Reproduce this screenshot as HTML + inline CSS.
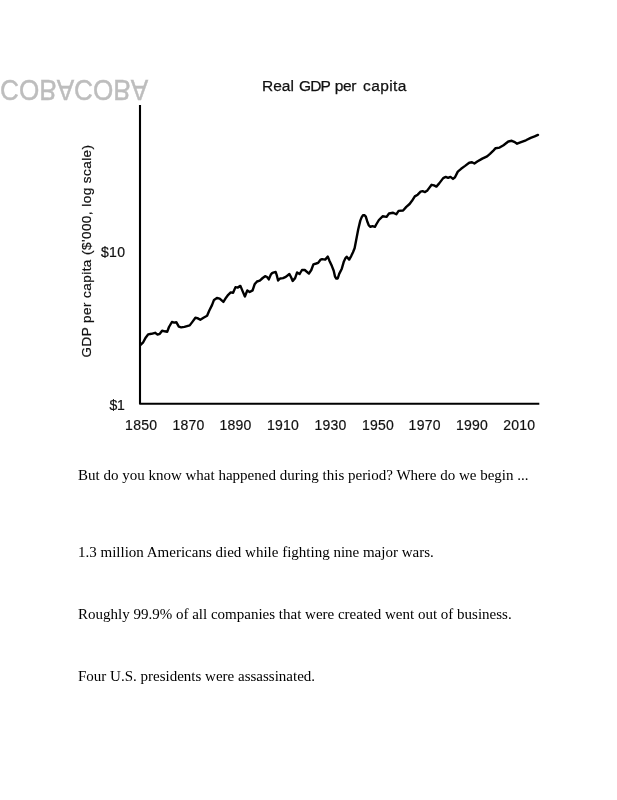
<!DOCTYPE html>
<html><head><meta charset="utf-8">
<style>
html,body{margin:0;padding:0;background:#fff;}
body{width:617px;height:800px;position:relative;overflow:hidden;will-change:transform;}
.s{font-family:"Liberation Sans",sans-serif;position:absolute;white-space:nowrap;line-height:1;margin:0;}
.p{font-family:"Liberation Serif",serif;position:absolute;white-space:nowrap;font-size:15px;line-height:17px;color:#000;left:78px;margin:0;}
#wm{left:0px;top:77.3px;font-size:26.15px;color:#bdbdbd;transform:scaleY(-1.115);-webkit-text-stroke:0.4px #bdbdbd;}
.tt{top:78px;font-size:15.5px;color:#111;letter-spacing:0px;-webkit-text-stroke:0.25px #111;}
#ylab{font-size:13.5px;color:#111;letter-spacing:0.45px;-webkit-text-stroke:0.2px #111;left:87.4px;top:250.75px;}
.yt{font-size:14px;color:#111;-webkit-text-stroke:0.2px #111;letter-spacing:0.3px;}
.xt{font-size:14px;color:#111;top:418.2px;letter-spacing:0.25px;-webkit-text-stroke:0.2px #111;}
svg{position:absolute;left:0;top:0;}
</style></head><body>
<div class="s" id="wm">COBACOBA</div>
<div class="s tt" style="left:262px;">Real</div><div class="s tt" style="left:299px;letter-spacing:-0.9px;">GDP</div><div class="s tt" style="left:334.8px;letter-spacing:-0.4px;">per</div><div class="s tt" style="left:363px;letter-spacing:0.4px;">capita</div>
<svg width="617" height="800" viewBox="0 0 617 800">
<path d="M140 105 L140 403.8 L539.3 403.8" fill="none" stroke="#000" stroke-width="2.1" stroke-linejoin="round"/>
<path d="M140.3 345 L143.2 342.3 L145.8 337.4 L148.1 334.4 L151.5 333.8 L155.1 332.8 L157.5 334.6 L159.8 333.8 L162.1 330.7 L164.6 331.3 L167.2 331.8 L169 327 L171.9 322 L174.3 322.6 L176.3 322.2 L178.8 326.6 L181.2 327.4 L184.4 326.9 L189.7 325.4 L192.2 322.1 L195.4 317.7 L197.4 318.1 L200.3 319.7 L203.5 317.7 L207.1 315.7 L209.2 310.8 L212 305.1 L214 299.9 L216.9 298 L219.7 298.6 L223.4 301.9 L226.2 297.4 L228.2 294.8 L230.7 292.4 L233.1 292.8 L235.5 287.1 L237.6 287.6 L240.4 285.9 L242.8 291.6 L244.9 296.5 L247.3 290.4 L249.7 292 L252.6 290.4 L254.6 284.3 L257 281.5 L259.8 280.7 L262.7 278 L265.1 276.2 L267.1 277 L268.8 279.4 L270.8 274.6 L272.4 272.8 L275.7 272 L276.9 275.7 L278.1 280.5 L280.1 278.5 L283 278.1 L285.8 276.9 L289.4 274 L291.1 277.3 L292.7 280.9 L295.1 278.1 L297.1 272.4 L299.6 274 L302 270 L304.8 270 L308.9 273.6 L311.3 270 L313.4 264.3 L316.2 263.5 L318.2 262.8 L320.7 259.6 L322.1 259.1 L325.2 259.6 L327.8 256.6 L329.3 260.4 L331.9 266.1 L333.7 270.7 L335 276.5 L336.3 278.6 L337.7 278.5 L339.2 273.9 L341.8 268.7 L343.9 261.4 L345.4 258.3 L346.7 256.7 L349.2 259.6 L351.3 255.8 L353 252.2 L354.6 248.3 L356.1 240.5 L358.2 229.5 L360.3 220.6 L361.8 216.9 L363.2 215.1 L364.6 215.3 L365.8 216.6 L367.2 221.2 L368.8 225.4 L370.4 226.8 L372.4 226.1 L374.9 226.9 L376.5 224 L378.9 220 L382.6 216.3 L386.6 216.9 L389 213.5 L393.1 212.7 L396.3 214.3 L398.6 210.9 L403.1 210.5 L406.3 206.9 L409.6 204 L412 200.8 L414.8 196.4 L417.7 194.7 L420.6 191.7 L422.6 191.2 L425 192.1 L427.4 190.4 L431.6 184.8 L434 185.4 L436.4 186.6 L439.2 183.4 L443.2 178.1 L445.7 176.9 L448.1 177.9 L450.5 176.9 L453 178.9 L455 177.3 L457.8 171.6 L461.1 168.8 L465.1 165.9 L469.2 162.7 L472 162.3 L474.4 163.5 L477.3 161.5 L482.3 158.6 L487.1 156.3 L490 153.8 L493.6 150.3 L495.6 148.2 L499.6 147.6 L503.5 145.2 L508.3 141.5 L511.8 140.8 L514.2 141.8 L517.1 143.7 L521 142.2 L525.9 140.3 L530.7 137.9 L534.6 136.4 L538 134.9" fill="none" stroke="#000" stroke-width="2.4" stroke-linejoin="round" stroke-linecap="round"/>
</svg>
<div class="s" id="ylab" style="transform:translate(-50%,-50%) rotate(-90deg);">GDP per capita ($'000, log scale)</div>
<div class="s yt" style="left:101px;top:245px;">$10</div>
<div class="s yt" style="left:109.5px;top:398px;letter-spacing:-0.4px;">$1</div>
<div class="s xt" style="left:125.1px;">1850</div>
<div class="s xt" style="left:172.4px;">1870</div>
<div class="s xt" style="left:219.4px;">1890</div>
<div class="s xt" style="left:266.9px;">1910</div>
<div class="s xt" style="left:314.4px;">1930</div>
<div class="s xt" style="left:361.9px;">1950</div>
<div class="s xt" style="left:408.6px;">1970</div>
<div class="s xt" style="left:455.9px;">1990</div>
<div class="s xt" style="left:503.2px;">2010</div>
<p class="p" style="top:467px;">But do you know what happened during this period? Where do we begin ...</p>
<p class="p" style="top:544px;">1.3 million Americans died while fighting nine major wars.</p>
<p class="p" style="top:606px;">Roughly 99.9% of all companies that were created went out of business.</p>
<p class="p" style="top:668px;">Four U.S. presidents were assassinated.</p>
</body></html>
